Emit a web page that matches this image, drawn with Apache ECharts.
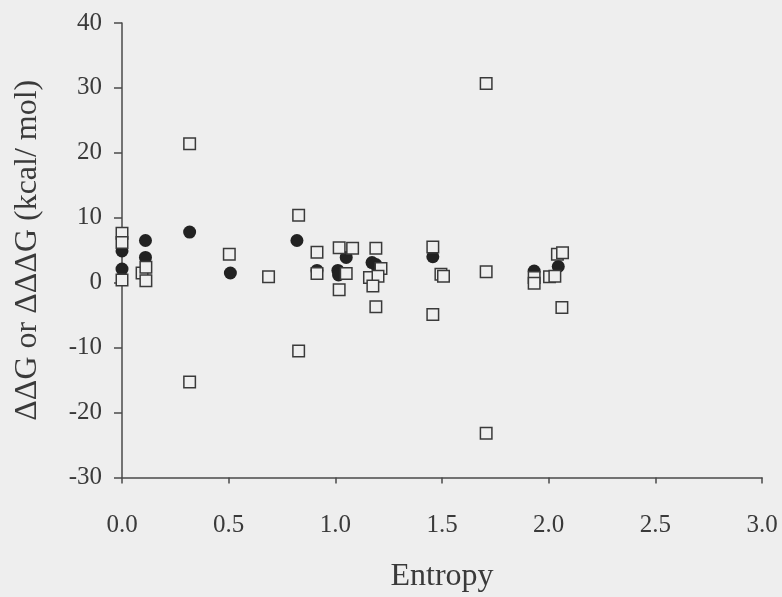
<!DOCTYPE html>
<html>
<head>
<meta charset="utf-8">
<script src="https://cdn.jsdelivr.net/npm/echarts@6/dist/echarts.min.js"></script>
<style>
html,body{margin:0;padding:0;background:#eeeeee;}
#chart{width:782px;height:597px;}
</style>
</head>
<body>
<div id="chart"></div>
<script>
// Filled circles (ΔΔG)
const circleX = [0.00, 0.00, 0.11, 0.11, 0.317, 0.508, 0.82, 0.914, 1.012, 1.015, 1.051, 1.172, 1.19, 1.457, 1.932, 2.045];
const circleY = [4.9, 2.1, 6.5, 3.9, 7.8, 1.5, 6.5, 1.9, 1.9, 1.2, 3.9, 3.1, 2.8, 4.0, 1.8, 2.5];
// Open squares (ΔΔΔG)
const squareX = [0.00, 0.00, 0.00, 0.094, 0.112, 0.112, 0.317, 0.317, 0.503, 0.687, 0.828, 0.828, 0.914, 0.914, 1.018, 1.018, 1.081, 1.051, 1.190, 1.190, 1.214, 1.160, 1.200, 1.176, 1.457, 1.457, 1.495, 1.507, 1.707, 1.707, 1.707, 1.932, 1.932, 2.004, 2.029, 2.041, 2.065, 2.062];
const squareY = [7.6, 6.2, 0.4, 1.5, 2.4, 0.3, 21.4, -15.3, 4.4, 0.9, 10.4, -10.5, 4.7, 1.4, 5.4, -1.1, 5.3, 1.4, 5.3, -3.7, 2.2, 0.8, 1.0, -0.5, 5.5, -4.9, 1.3, 1.0, 30.7, 1.7, -23.2, 0.8, -0.1, 0.9, 1.0, 4.4, 4.6, -3.8];
// Axis tick labels
const xTickLabels = ['0.0', '0.5', '1.0', '1.5', '2.0', '2.5', '3.0'];
const yTickLabels = ['-30', '-20', '-10', '0', '10', '20', '30', '40'];

const font = '"Liberation Serif", "Times New Roman", serif';
const textColor = '#3a3a3a';
const axisColor = '#4a4a4a';

const chart = echarts.init(document.getElementById('chart'), null, {renderer: 'canvas'});
chart.setOption({
  backgroundColor: '#eeeeee',
  animation: false,
  grid: {left: 122, right: 20, top: 23, bottom: 119.5, containLabel: false, outerBoundsMode: 'none'},
  xAxis: {
    type: 'value', min: 0, max: 3, interval: 0.5,
    name: 'Entropy', nameLocation: 'middle', nameGap: 83,
    nameTextStyle: {fontFamily: font, fontSize: 32, color: textColor},
    axisLine: {show: true, onZero: false, lineStyle: {color: axisColor, width: 1.5}},
    axisTick: {show: true, inside: false, length: 6, lineStyle: {color: axisColor, width: 1.5}},
    splitLine: {show: false},
    axisLabel: {
      margin: 35, fontFamily: font, fontSize: 25, color: textColor, hideOverlap: false,
      formatter: v => xTickLabels[Math.round(v / 0.5)]
    }
  },
  yAxis: {
    type: 'value', min: -30, max: 40, interval: 10,
    name: 'ΔΔG or ΔΔΔG (kcal/ mol)', nameLocation: 'middle', nameGap: 78, nameRotate: 90,
    nameTextStyle: {fontFamily: font, fontSize: 32, color: textColor},
    axisLine: {show: true, onZero: false, lineStyle: {color: axisColor, width: 1.5}},
    axisTick: {show: true, inside: false, length: 8, lineStyle: {color: axisColor, width: 1.5}},
    splitLine: {show: false},
    axisLabel: {
      margin: 20, fontFamily: font, fontSize: 25, color: textColor, hideOverlap: false,
      formatter: v => yTickLabels[Math.round((v + 30) / 10)]
    }
  },
  series: [
    {
      type: 'scatter', name: 'circles', symbol: 'circle', symbolSize: 13,
      itemStyle: {color: '#222222', opacity: 1},
      data: circleX.map((x, i) => [x, circleY[i]])
    },
    {
      type: 'scatter', name: 'squares', symbol: 'rect', symbolSize: 11.5,
      itemStyle: {color: '#efefef', borderColor: '#3a3a3a', borderWidth: 1.5, opacity: 1},
      data: squareX.map((x, i) => [x, squareY[i]])
    }
  ]
});
</script>
</body>
</html>
